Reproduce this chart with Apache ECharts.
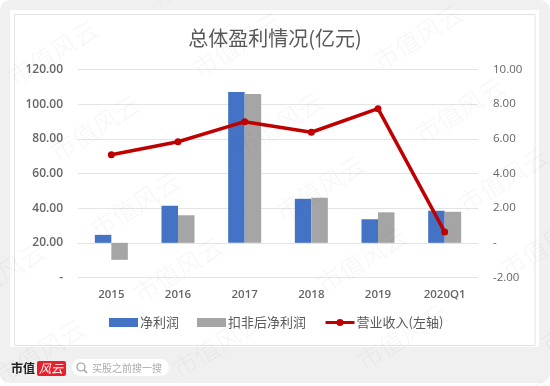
<!DOCTYPE html>
<html>
<head>
<meta charset="utf-8">
<style>
  html, body { margin: 0; padding: 0; background: #fff; }
  #main { width: 550px; height: 386px; }
</style>
<script src="https://cdn.jsdelivr.net/npm/echarts@6/dist/echarts.min.js"></script>
</head>
<body>
<div id="main"></div>
<script>
var categories = ['2015', '2016', '2017', '2018', '2019', '2020Q1'];
var netProfit = [0.46, 2.14, 8.7, 2.54, 1.36, 1.85];
var adjProfit = [-0.98, 1.59, 8.58, 2.6, 1.76, 1.79];
var revenue = [70.8, 78.3, 89.9, 83.8, 97.4, 26.3];
var seriesNames = ['净利润', '扣非后净利润', '营业收入(左轴)'];

var font = '"Noto Sans CJK SC", "Noto Sans", sans-serif';
var labelFont = '"Open Sans", "Noto Sans CJK SC", sans-serif';

// watermark centres
var marks = [[53, 53], [237, 45], [418, 37], [95, 128], [278, 125], [460, 110],
  [135, 205], [320, 188], [503, 180], [178, 270], [362, 260], [545, 245],
  [217, 345], [402, 337], [585, 320], [0, 275], [40, 352], [195, -28], [530, 400]];

var fmt = function (v) { return v === 0 ? '-' : v.toFixed(2); };

var bg = [
  { type: 'rect', z: -10, shape: { x: 0, y: 0, width: 550, height: 383, r: 10 }, style: { fill: '#f0f0f0' } },
  { type: 'rect', z: -9, shape: { x: 10, y: 10, width: 529, height: 337 }, style: { fill: '#ffffff' } },
  { type: 'rect', z: -8, shape: { x: 14.5, y: 14.5, width: 520.5, height: 331 }, style: { fill: '#ffffff', stroke: '#e2e2e2', lineWidth: 1 } },
  { type: 'text', z: 10, style: { x: 11, y: 368, text: '市值', font: 'bold 12px "Noto Sans CJK SC", sans-serif', fill: '#222', textVerticalAlign: 'middle' } },
  { type: 'rect', z: 10, shape: { x: 37, y: 361, width: 29, height: 15, r: 2 }, style: { fill: '#e8202a' } },
  { type: 'text', z: 11, style: { x: 39, y: 368.5, text: '风云', font: 'italic 12px "Noto Sans CJK SC", sans-serif', fill: '#fff', textVerticalAlign: 'middle' } },
  { type: 'rect', z: 10, shape: { x: 72, y: 359, width: 97, height: 17, r: 8.5 }, style: { fill: '#fff' } },
  { type: 'circle', z: 11, shape: { cx: 81, cy: 367, r: 4 }, style: { fill: 'none', stroke: '#999', lineWidth: 1.2 } },
  { type: 'line', z: 11, shape: { x1: 84, y1: 370, x2: 87, y2: 373 }, style: { stroke: '#999', lineWidth: 1.2 } },
  { type: 'text', z: 11, style: { x: 92, y: 368, text: '买股之前搜一搜', font: '10px "Noto Sans CJK SC", sans-serif', fill: '#aaa', textVerticalAlign: 'middle' } }
];
var wm = marks.map(function (p) {
  return {
    type: 'text', z: 20, x: p[0], y: p[1], rotation: 32 * Math.PI / 180, silent: true,
    style: { text: '市值风云', font: '300 25px "Noto Sans CJK SC", sans-serif', fill: 'rgba(90,90,90,0.055)', textAlign: 'center', textVerticalAlign: 'middle' }
  };
});

var myChart = echarts.init(document.getElementById('main'), null, { renderer: 'canvas' });
myChart.setOption({
  animation: false,
  backgroundColor: '#fff',
  title: {
    text: '总体盈利情况(亿元)', left: 270, top: 23, textAlign: 'center',
    textStyle: { fontFamily: font, fontSize: 20, fontWeight: 'normal', color: '#595959' }
  },
  legend: {
    data: [
      { name: seriesNames[0], icon: 'rect' },
      { name: seriesNames[1], icon: 'rect' },
      { name: seriesNames[2] }
    ],
    left: 109, top: 316, padding: 0, itemWidth: 29, itemHeight: 9, itemGap: 18,
    lineStyle: { width: 3 },
    textStyle: { fontFamily: font, fontSize: 13, color: '#595959', padding: [0, 0, 0, -3] }
  },
  grid: { left: 78, right: 72, top: 69.5, height: 208 },
  xAxis: {
    type: 'category', data: categories,
    axisLine: { show: false }, axisTick: { show: false },
    axisLabel: { margin: 11, fontFamily: labelFont, fontSize: 11.5, fontWeight: 600, color: '#666' }
  },
  yAxis: [
    {
      type: 'value', min: 0, max: 120, interval: 20, position: 'left',
      axisLine: { show: false }, axisTick: { show: false },
      axisLabel: { margin: 15, padding: [2, 0, 0, 0], formatter: fmt, fontFamily: labelFont, fontSize: 12, fontWeight: 600, color: '#666' },
      splitLine: { lineStyle: { color: '#e4e4e4', width: 1 } }
    },
    {
      type: 'value', min: -2, max: 10, interval: 2, position: 'right',
      axisLine: { show: false }, axisTick: { show: false },
      axisLabel: { margin: 15, padding: [2, 0, 0, 0], formatter: fmt, fontFamily: labelFont, fontSize: 11.5, color: '#666' },
      splitLine: { show: false }
    }
  ],
  series: [
    { name: seriesNames[0], type: 'bar', yAxisIndex: 1, data: netProfit, barWidth: 16.5, barGap: '0%', itemStyle: { color: '#4472c4' } },
    { name: seriesNames[1], type: 'bar', yAxisIndex: 1, data: adjProfit, barWidth: 16.5, barGap: '0%', itemStyle: { color: '#a5a5a5' } },
    {
      name: seriesNames[2], type: 'line', yAxisIndex: 0, data: revenue, symbol: 'circle', symbolSize: 7,
      lineStyle: { color: '#c00000', width: 3.5 }, itemStyle: { color: '#c00000' }
    }
  ],
  graphic: bg.concat(wm)
});
</script>
</body>
</html>
